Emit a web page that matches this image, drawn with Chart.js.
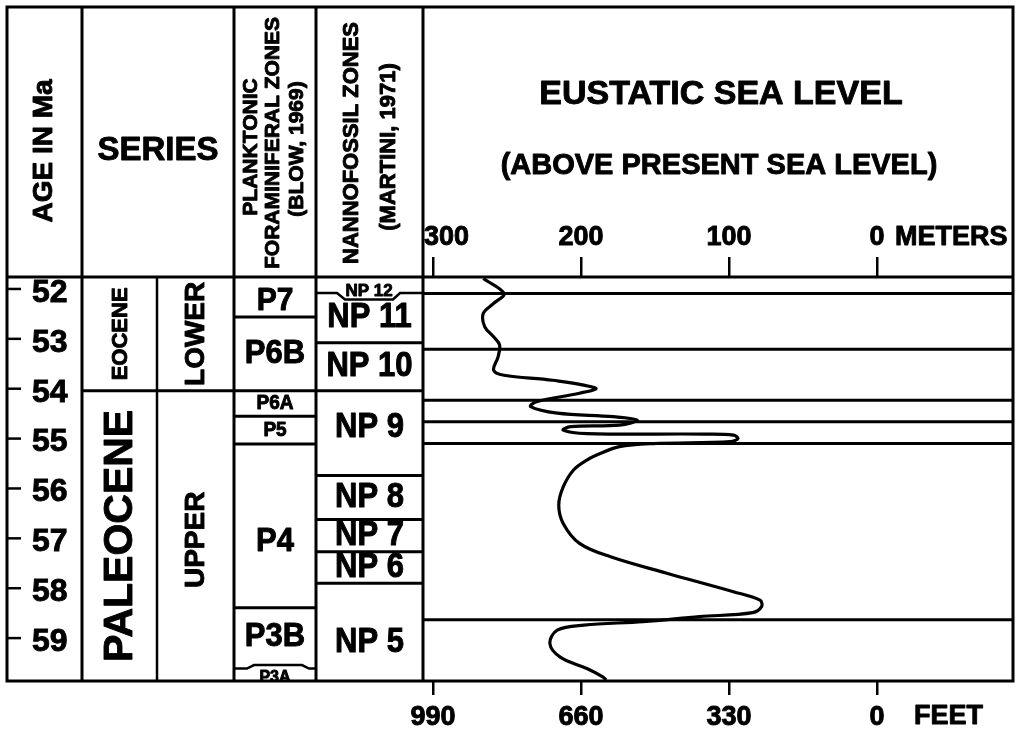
<!DOCTYPE html>
<html>
<head>
<meta charset="utf-8">
<script src="https://cdn.jsdelivr.net/npm/chart.js@4.4.1/dist/chart.umd.min.js"></script>
<style>
  html, body { margin: 0; padding: 0; background: #fff; }
  canvas { display: block; }
</style>
</head>
<body>
<canvas id="seaChart" width="1018" height="739"></canvas>
<script>
// tick labels
const ageTicks = [52, 53, 54, 55, 56, 57, 58, 59];
const meterTicks = [300, 200, 100, 0];
const feetTicks = [990, 660, 330, 0];

// stratigraphic columns (ages in Ma)
const seriesNames = ['EOCENE', 'PALEOCENE'];
const subSeriesNames = ['LOWER', 'UPPER'];
const seriesBounds = [51.68, 53.96, 59.78];

const planktonicZones = ['P7', 'P6B', 'P6A', 'P5', 'P4', 'P3B', 'P3A'];
const planktonicBounds = [51.68, 52.48, 53.96, 54.47, 55.03, 58.31, 59.50, 59.78];

const nannoZones = ['NP 12', 'NP 11', 'NP 10', 'NP 9', 'NP 8', 'NP 7', 'NP 6', 'NP 5'];
const nannoBounds = [51.68, 52.0, 53.0, 53.96, 55.66, 56.54, 57.19, 57.82, 59.78];

// horizontal lines across the sea level panel
const sequenceBounds = [52.01, 53.13, 54.15, 54.58, 55.02, 58.55];

// eustatic curve: age (Ma) and height above present sea level (m)
const seaLevelAge = [51.71, 52.01, 52.21, 52.41, 52.68, 52.88, 53.04, 53.28, 53.55, 53.65,
  53.75, 53.91, 54.01, 54.18, 54.28, 54.41, 54.48, 54.55, 54.65, 54.68,
  54.75, 54.82, 54.83, 54.85, 54.92, 54.98, 55.02, 55.08, 55.22, 55.35,
  55.55, 55.89, 56.25, 56.62, 57.02, 57.29, 57.62, 57.99, 58.16, 58.29,
  58.41, 58.49, 58.59, 58.66, 58.76, 59.03, 59.30, 59.53, 59.70, 59.76];
const seaLevelMeters = [266, 252, 259, 266, 265, 259, 255, 256, 259, 252,
  219, 190, 201, 230, 234, 216, 178, 162, 174, 207,
  212, 196, 117, 97, 94, 99, 151, 174, 187, 196,
  205, 212, 215, 212, 201, 180, 142, 97, 79, 78,
  84, 120, 158, 198, 216, 221, 214, 196, 185, 183];

const FONT = '"Liberation Sans", Arial, Helvetica, sans-serif';
const FRAME_TOP = 7;
const COLS = { age: 82, seriesMid: 157, series: 234, plank: 316, nanno: 423 };
const FT_PER_M = 3.3;
const M_MIN = -91.9, M_MAX = 587.8;
const INK = 0.9; // extra stroke so the type looks as heavy as the print

// label tweaks (font size, age of the label centre)
const plankStyle = { 'P7': 30, 'P6B': 31, 'P6A': 19, 'P5': 19, 'P4': 31, 'P3B': 31, 'P3A': 16 };
const nannoStyle = { 'NP 12': 17 };
const labelAt = { 'P7': 52.16, 'P4': 57.0, 'NP 9': 54.69, 'NP 5': 59.0 };

function hline(ctx, x1, x2, y, w) {
  ctx.lineWidth = w;
  ctx.beginPath(); ctx.moveTo(x1, y); ctx.lineTo(x2, y); ctx.stroke();
}
function vline(ctx, x, y1, y2, w) {
  ctx.lineWidth = w;
  ctx.beginPath(); ctx.moveTo(x, y1); ctx.lineTo(x, y2); ctx.stroke();
}
function text(ctx, str, cx, cy, size, opts = {}) {
  ctx.save();
  ctx.translate(cx, cy);
  if (opts.rotate) ctx.rotate(-Math.PI / 2);
  ctx.scale(opts.sx || 1, opts.sy || 1);
  ctx.font = `bold ${size}px ${FONT}`;
  ctx.textAlign = opts.align || 'center';
  ctx.textBaseline = 'middle';
  ctx.lineWidth = INK;
  ctx.lineJoin = 'round';
  ctx.fillText(str, 0, 0);
  ctx.strokeText(str, 0, 0);
  ctx.restore();
}
function boxLabel(ctx, str, x1, x2, yTop, yBot, cy, size, sy) {
  ctx.save();
  ctx.beginPath();
  ctx.rect(x1, yTop, x2 - x1, yBot - yTop);
  ctx.clip();
  text(ctx, str, (x1 + x2) / 2, cy, size, { sy: sy });
  ctx.restore();
}

const columnsPlugin = {
  id: 'columns',
  afterDraw(chart) {
    const { ctx, chartArea: a, scales } = chart;
    const y = scales.y;
    const xm = scales.x;
    const xf = scales.x2;
    ctx.save();
    ctx.strokeStyle = '#000';
    ctx.fillStyle = '#000';
    ctx.lineCap = 'butt';

    // frame and column rules
    ctx.lineWidth = 3;
    ctx.strokeRect(a.left, FRAME_TOP, a.right - a.left, a.bottom - FRAME_TOP);
    hline(ctx, a.left, a.right, a.top, 3);
    [COLS.age, COLS.series, COLS.plank, COLS.nanno].forEach(x => vline(ctx, x, FRAME_TOP, a.bottom, 3));
    vline(ctx, COLS.seriesMid, a.top, a.bottom, 2.5);

    // age dashes
    ageTicks.forEach(v => hline(ctx, a.left, a.left + 14, y.getPixelForValue(v) - 4, 2.5));

    // series column
    const sb = seriesBounds.map(v => y.getPixelForValue(v));
    hline(ctx, COLS.age, COLS.series, sb[1], 3);
    const sSize = { 'EOCENE': 22, 'PALEOCENE': 41, 'LOWER': 28, 'UPPER': 28 };
    seriesNames.forEach((n, i) => {
      text(ctx, n, (COLS.age + COLS.seriesMid) / 2 + 1, (sb[i] + sb[i + 1]) / 2, sSize[n], { rotate: true });
    });
    subSeriesNames.forEach((n, i) => {
      text(ctx, n, (COLS.seriesMid + COLS.series) / 2 + 1, (sb[i] + sb[i + 1]) / 2 + (i ? 4 : 0), sSize[n], { rotate: true });
    });

    // planktonic foraminiferal zones
    const pb = planktonicBounds.map(v => y.getPixelForValue(v));
    for (let i = 1; i < pb.length - 1; i++) {
      if (i === pb.length - 2) {
        const y0 = pb[i];
        ctx.lineWidth = 2.5;
        ctx.beginPath();
        ctx.moveTo(COLS.series, y0 + 1.5); ctx.lineTo(247, y0 + 1.5);
        ctx.lineTo(254, y0 - 2); ctx.lineTo(302, y0 - 2);
        ctx.lineTo(309, y0 + 1.5); ctx.lineTo(COLS.plank, y0 + 1.5);
        ctx.stroke();
      } else {
        hline(ctx, COLS.series, COLS.plank, pb[i], 3);
      }
    }
    planktonicZones.forEach((n, i) => {
      const cy = labelAt[n] !== undefined ? y.getPixelForValue(labelAt[n]) : (pb[i] + pb[i + 1]) / 2;
      const off = n === 'P3A' ? 3 : 0;
      boxLabel(ctx, n, COLS.series, COLS.plank, pb[i] - 2, pb[i + 1], cy + off, plankStyle[n] || 30, 1.05);
    });

    // nannofossil zones
    const nb = nannoBounds.map(v => y.getPixelForValue(v));
    for (let i = 1; i < nb.length - 1; i++) {
      if (i === 1) {
        const y0 = nb[i];
        ctx.lineWidth = 2.5;
        ctx.beginPath();
        ctx.moveTo(COLS.plank, y0); ctx.lineTo(337, y0);
        ctx.lineTo(345, y0 + 6.5); ctx.lineTo(393, y0 + 6.5);
        ctx.lineTo(400, y0); ctx.lineTo(COLS.nanno, y0);
        ctx.stroke();
      } else {
        hline(ctx, COLS.plank, COLS.nanno, nb[i], 3);
      }
    }
    nannoZones.forEach((n, i) => {
      if (n === 'NP 12') {
        text(ctx, n, 369, nb[1] - 2, nannoStyle[n]);
        return;
      }
      const cy = labelAt[n] !== undefined ? y.getPixelForValue(labelAt[n]) : (nb[i] + nb[i + 1]) / 2;
      boxLabel(ctx, n, COLS.plank, COLS.nanno, nb[i] + 1, nb[i + 1], cy, 31, 1.12);
    });

    // sea level panel rules
    sequenceBounds.forEach(v => hline(ctx, COLS.nanno, a.right, y.getPixelForValue(v), 3));

    // header texts
    const hc = (FRAME_TOP + a.top) / 2 + 1;
    text(ctx, 'AGE IN Ma', 44, hc + 8, 28, { rotate: true });
    text(ctx, 'SERIES', (COLS.age + COLS.series) / 2, hc + 8, 33);
    text(ctx, 'PLANKTONIC', 251, hc + 4, 21, { rotate: true });
    text(ctx, 'FORAMINIFERAL ZONES', 273, hc, 21, { rotate: true });
    text(ctx, '(BLOW, 1969)', 297, hc + 6, 21, { rotate: true });
    text(ctx, 'NANNOFOSSIL ZONES', 352, hc, 22, { rotate: true });
    text(ctx, '(MARTINI, 1971)', 389, hc + 4, 22, { rotate: true });
    text(ctx, 'EUSTATIC SEA LEVEL', 721, 95, 34);
    text(ctx, '(ABOVE PRESENT SEA LEVEL)', 719, 166, 29);

    // unit names next to the zero ticks
    text(ctx, 'METERS', xm.getPixelForValue(0) + 18, 238, 27, { align: 'left' });
    text(ctx, 'FEET', xf.getPixelForValue(0) + 37, 717, 27, { align: 'left' });
    ctx.restore();
  }
};

const axisFont = { family: FONT, size: 27, weight: 'bold' };

new Chart(document.getElementById('seaChart'), {
  type: 'line',
  data: {
    datasets: [{
      label: 'Eustatic sea level',
      data: seaLevelAge.map((age, i) => ({ x: seaLevelMeters[i], y: age })),
      borderColor: '#000',
      borderWidth: 3.2,
      pointRadius: 0,
      fill: false,
      tension: 0.35
    }]
  },
  options: {
    responsive: false,
    animation: false,
    layout: { padding: { top: 217, left: 7, right: 5, bottom: 0 } },
    plugins: { legend: { display: false }, tooltip: { enabled: false } },
    scales: {
      x: {
        type: 'linear',
        position: 'top',
        reverse: true,
        min: M_MIN,
        max: M_MAX,
        afterBuildTicks: s => { s.ticks = meterTicks.map(v => ({ value: v })); },
        afterFit: s => { s.height = 60; },
        grid: { drawOnChartArea: false, tickLength: 20, lineWidth: 2.5, color: '#000' },
        border: { display: false },
        ticks: {
          font: axisFont, color: '#000', padding: 3, maxRotation: 0, autoSkip: false,
          textStrokeColor: '#000', textStrokeWidth: INK,
          callback: v => (v === 300 ? '\u2002\u2002300' : String(v))
        }
      },
      x2: {
        type: 'linear',
        position: 'bottom',
        reverse: true,
        min: M_MIN * FT_PER_M,
        max: M_MAX * FT_PER_M,
        afterBuildTicks: s => { s.ticks = feetTicks.map(v => ({ value: v })); },
        afterFit: s => { s.height = 58; },
        grid: { drawOnChartArea: false, tickLength: 14, lineWidth: 2.5, color: '#000' },
        border: { display: false },
        ticks: {
          font: axisFont, color: '#000', padding: 6, maxRotation: 0, autoSkip: false,
          textStrokeColor: '#000', textStrokeWidth: INK
        }
      },
      y: {
        type: 'linear',
        reverse: true,
        min: 51.68,
        max: 59.78,
        afterBuildTicks: s => { s.ticks = ageTicks.map(v => ({ value: v })); },
        afterFit: s => { s.width = 0; },
        grid: { display: false },
        border: { display: false },
        ticks: {
          mirror: true, padding: 25, color: '#000',
          font: { family: FONT, size: 32, weight: 'bold' },
          textStrokeColor: '#000', textStrokeWidth: INK
        }
      }
    }
  },
  plugins: [columnsPlugin]
});
</script>
</body>
</html>
